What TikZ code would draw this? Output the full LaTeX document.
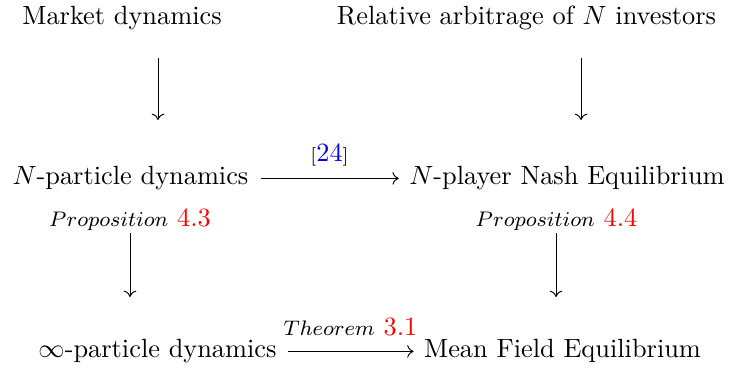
\documentclass[tikz,border=0pt]{standalone}
\usepackage{xcolor}
\usetikzlibrary{arrows.meta}
\begin{document}
\begin{tikzpicture}[x=0.3795pt,y=-0.3795pt,
  txt/.style={inner sep=0pt,anchor=base},
  arr/.style={-{To[length=2.4pt,width=4.8pt]},line width=0.36pt},
  lbl/.style={inner sep=0pt,anchor=base}]
\useasboundingbox (0,0) rectangle (729,368);
% row 1
\node[txt] (md) at (122,25) {Market dynamics};
\node[txt] (ra) at (526.5,25) {Relative arbitrage of $N$ investors};
% row 2
\node[txt] (np) at (130.5,185) {$N$-particle dynamics};
\node[txt] (nn) at (567,185) {$N$-player Nash Equilibrium};
% row 3
\node[txt] (inf) at (157.5,358) {$\infty$-particle dynamics};
\node[txt] (mfe) at (562.5,358) {Mean Field Equilibrium};
% labels
\node[lbl] (c24) at (329.5,162) {{\scriptsize[}\textcolor{blue}{24}{\scriptsize]}};
\node[lbl] (p43) at (130,227) {{\footnotesize$Proposition$}~\textcolor{red}{4.3}};
\node[lbl] (p44) at (556.5,227) {{\footnotesize$Proposition$}~\textcolor{red}{4.4}};
\node[lbl] (t31) at (350.5,336) {{\footnotesize$Theorem$}~\textcolor{red}{3.1}};
% vertical arrow ends
\coordinate (a1t) at (158,58);  \coordinate (a1b) at (158,120);
\coordinate (a2t) at (581,58);  \coordinate (a2b) at (581,120);
\coordinate (a3t) at (130,233); \coordinate (a3b) at (130,297);
\coordinate (a4t) at (556,233); \coordinate (a4b) at (556,297);
\draw[arr] (a1t) -- (a1b);
\draw[arr] (a2t) -- (a2b);
\draw[arr] (a3t) -- (a3b);
\draw[arr] (a4t) -- (a4b);
% horizontal arrows
\draw[arr] ([shift={(12,-6.6)}]np.base east) -- ([shift={(-10,-6.6)}]nn.base west);
\draw[arr] ([shift={(11,-6.6)}]inf.base east) -- ([shift={(-10,-6.6)}]mfe.base west);
\end{tikzpicture}
\end{document}
